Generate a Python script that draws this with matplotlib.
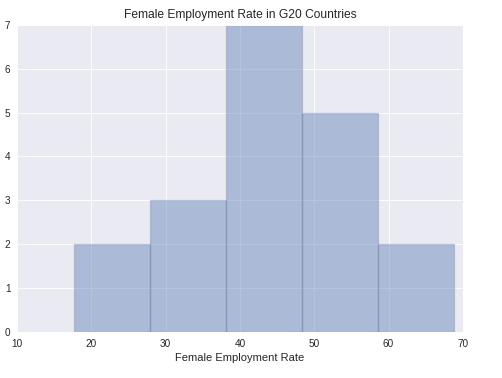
import matplotlib
matplotlib.use("Agg")
import matplotlib.pyplot as plt
import seaborn as sns

# histogram of female employment rate (bin edges and counts)
bin_edges = [17.6, 27.84, 38.08, 48.32, 58.56, 68.8]
counts = [2, 3, 7, 5, 2]
x_ticks = [10, 20, 30, 40, 50, 60, 70]
y_ticks = [0, 1, 2, 3, 4, 5, 6, 7]

sns.set_style("darkgrid")
plt.rcParams["font.family"] = ["Liberation Sans", "DejaVu Sans"]

fig = plt.figure(figsize=(502 / 80, 378 / 80), dpi=80)
ax = fig.add_axes([0.034, 0.122, 0.888, 0.812])

ax.hist(bin_edges[:-1], bins=bin_edges, weights=counts,
        facecolor=(0.298, 0.447, 0.69, 0.4),
        edgecolor=(0.3, 0.35, 0.5, 0.22), linewidth=1.2)

ax.set_xlim(10, 70)
ax.set_ylim(0, 7)
ax.set_xticks(x_ticks)
ax.set_yticks(y_ticks)
ax.tick_params(labelsize=9, colors="#262626", length=0, pad=6)
ax.set_xlabel("Female Employment Rate", fontsize=10, color="#262626")
ax.set_title("Female Employment Rate in G20 Countries", fontsize=10.8, color="#262626")

fig.savefig("out.png", dpi=80)
